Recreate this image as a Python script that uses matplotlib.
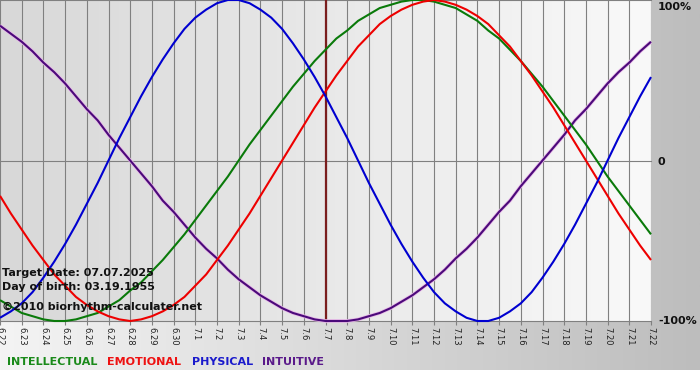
import matplotlib
matplotlib.use('Agg')
import matplotlib.pyplot as plt
import numpy as np
from matplotlib.colors import LinearSegmentedColormap

# ---- data, one value every half day from 6.22 to 7.22 ----
days = ['6.22', '6.23', '6.24', '6.25', '6.26', '6.27', '6.28', '6.29', '6.30',
        '7.1', '7.2', '7.3', '7.4', '7.5', '7.6', '7.7', '7.8', '7.9', '7.10',
        '7.11', '7.12', '7.13', '7.14', '7.15', '7.16', '7.17', '7.18', '7.19',
        '7.20', '7.21', '7.22']
sample_step = 0.5  # days between readings
intellectual = [-0.87, -0.91, -0.95, -0.97, -0.99, -1.00, -1.00, -0.99, -0.97, -0.95,
                -0.91, -0.87, -0.81, -0.76, -0.69, -0.62, -0.54, -0.46, -0.37, -0.28,
                -0.19, -0.10, 0.00, 0.10, 0.19, 0.28, 0.37, 0.46, 0.54, 0.62,
                0.69, 0.76, 0.81, 0.87, 0.91, 0.95, 0.97, 0.99, 1.00, 1.00,
                0.99, 0.97, 0.95, 0.91, 0.87, 0.81, 0.76, 0.69, 0.62, 0.54,
                0.46, 0.37, 0.28, 0.19, 0.10, 0.00, -0.10, -0.19, -0.28, -0.37, -0.46]
emotional = [-0.22, -0.33, -0.43, -0.53, -0.62, -0.71, -0.78, -0.85, -0.90, -0.94,
             -0.97, -0.99, -1.00, -0.99, -0.97, -0.94, -0.90, -0.85, -0.78, -0.71,
             -0.62, -0.53, -0.43, -0.33, -0.22, -0.11, 0.00, 0.11, 0.22, 0.33,
             0.43, 0.53, 0.62, 0.71, 0.78, 0.85, 0.90, 0.94, 0.97, 0.99,
             1.00, 0.99, 0.97, 0.94, 0.90, 0.85, 0.78, 0.71, 0.62, 0.53,
             0.43, 0.33, 0.22, 0.11, 0.00, -0.11, -0.22, -0.33, -0.43, -0.53, -0.62]
physical = [-0.98, -0.94, -0.89, -0.82, -0.73, -0.63, -0.52, -0.40, -0.27, -0.14,
            0.00, 0.14, 0.27, 0.40, 0.52, 0.63, 0.73, 0.82, 0.89, 0.94,
            0.98, 1.00, 1.00, 0.98, 0.94, 0.89, 0.82, 0.73, 0.63, 0.52,
            0.40, 0.27, 0.14, 0.00, -0.14, -0.27, -0.40, -0.52, -0.63, -0.73,
            -0.82, -0.89, -0.94, -0.98, -1.00, -1.00, -0.98, -0.94, -0.89, -0.82,
            -0.73, -0.63, -0.52, -0.40, -0.27, -0.14, 0.00, 0.14, 0.27, 0.40, 0.52]
intuitive = [0.84, 0.79, 0.74, 0.68, 0.61, 0.55, 0.48, 0.40, 0.32, 0.25,
             0.16, 0.08, 0.00, -0.08, -0.16, -0.25, -0.32, -0.40, -0.48, -0.55,
             -0.61, -0.68, -0.74, -0.79, -0.84, -0.88, -0.92, -0.95, -0.97, -0.99,
             -1.00, -1.00, -1.00, -0.99, -0.97, -0.95, -0.92, -0.88, -0.84, -0.79,
             -0.74, -0.68, -0.61, -0.55, -0.48, -0.40, -0.32, -0.25, -0.16, -0.08,
             0.00, 0.08, 0.16, 0.25, 0.32, 0.40, 0.48, 0.55, 0.61, 0.68, 0.74]
target_day = '7.7'
y_labels = ['100%', '0', '-100%']
y_levels = [1, 0, -1]
info_lines = ['Target Date: 07.07.2025', 'Day of birth: 03.19.1955',
              '\u00a92010 biorhythm-calculater.net']
legend_names = ['INTELLECTUAL', 'EMOTIONAL', 'PHYSICAL', 'INTUITIVE']

W, H = 700, 380
fig = plt.figure(figsize=(W / 100, H / 100), dpi=100)
fig.patch.set_facecolor('white')

# figure background gradient
bg = fig.add_axes([0, 10 / H, 1, 370 / H])
bg.imshow(np.linspace(0, 1, 256)[None, :], aspect='auto', extent=[0, 1, 0, 1],
          cmap=LinearSegmentedColormap.from_list('bg', ['#f4f4f4', '#bdbdbd']))
bg.axis('off')

ax = fig.add_axes([0, 1 - 321 / H, 651 / W, 321 / H])
x = np.arange(len(days))
xs = np.arange(len(physical)) * sample_step
ax.set_xlim(0, len(days) - 1)
ax.set_ylim(-1, 1)
ax.imshow(np.linspace(0, 1, 256)[None, :], aspect='auto',
          extent=[0, len(days) - 1, -1, 1], zorder=0,
          cmap=LinearSegmentedColormap.from_list('pl', ['#d8d8d8', '#f9f9f9']))
for s in ax.spines.values():
    s.set_visible(False)

for i in x:
    ax.axvline(i, color='#808080', lw=0.8, zorder=1)
for lv in y_levels:
    ax.axhline(lv, color='#808080', lw=0.8, zorder=1, clip_on=False)

ax.axvline(days.index(target_day), color='#7a1e1e', lw=1.6, zorder=2)

kw = dict(zorder=3, clip_on=False, solid_joinstyle='round', solid_capstyle='butt')
ax.plot(xs, intuitive, color='#e8b8e8', lw=2.6, **{**kw, 'zorder': 2.5})
ax.plot(xs, intuitive, color='#4b0a7a', lw=1.5, **kw)
ax.plot(xs, intellectual, color='#0a7a0a', lw=1.5, **kw)
ax.plot(xs, emotional, color='#ee0000', lw=1.5, **kw)
ax.plot(xs, physical, color='#0000d0', lw=1.5, **kw)

ax.set_yticks([])
ax.set_xticks(x)
ax.set_xticklabels(days, rotation=270, fontsize=6, color='#222222')
ax.tick_params(axis='x', length=3, color='#808080', width=0.8, pad=1.5)

# right axis labels
for lab, ypx in zip(y_labels, [7.5, 161.5, 321.5]):
    fig.text(658 / W, 1 - ypx / H, lab, ha='left', va='center', fontsize=8,
             fontweight='bold', color='#111111')

# info texts
for txt, ypx in zip(info_lines, [272.5, 286.5, 306.5]):
    fig.text(2 / W, 1 - ypx / H, txt, ha='left', va='center', fontsize=8,
             fontweight='bold', color='#111111')

# legend
for name, col, xpx in zip(legend_names, ['#1a8a1a', '#ee1111', '#1a1acc', '#5a1a8a'],
                          [7, 107, 192, 262]):
    fig.text(xpx / W, 1 - 362 / H, name, ha='left', va='center', fontsize=8,
             fontweight='bold', color=col)

fig.savefig('out.png', dpi=100)
